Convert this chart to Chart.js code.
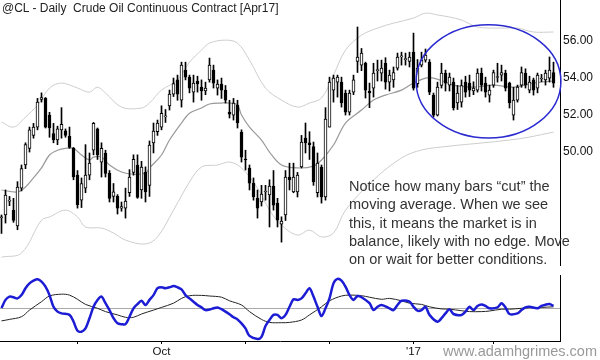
<!DOCTYPE html>
<html>
<head>
<meta charset="utf-8">
<script src="https://cdn.jsdelivr.net/npm/chart.js@4.4.1/dist/chart.umd.min.js"></script>
<style>
    body { margin: 0; background: #fff; }
    #wrap { position: relative; width: 600px; height: 360px; overflow: hidden; background: #fff; }
    #priceChart { position: absolute; left: 0; top: 0; }
    #oscChart { position: absolute; left: 0; top: 268px; }
    .title { position: absolute; left: 2px; top: 1px; font: 12px "Liberation Sans", Arial, sans-serif; color: #222; white-space: pre; }
    .note { position: absolute; left: 349px; top: 177px; font: 14.5px/18.3px "Liberation Sans", Arial, sans-serif; color: #333; }
    .site { position: absolute; right: 3px; top: 343px; font: 14.5px "Liberation Sans", Arial, sans-serif; color: #999; }
</style>
</head>
<body>
<div id="wrap">
    <canvas id="priceChart" width="600" height="266"></canvas>
    <canvas id="oscChart" width="600" height="92"></canvas>
    <div class="title">@CL - Daily  Crude Oil Continuous Contract [Apr17]</div>
    <div class="note">Notice how many bars “cut” the<br>moving average. When we see<br>this, it means the market is in<br>balance, likely with no edge. Move<br>on or wait for better conditions.</div>
    <div class="site">www.adamhgrimes.com</div>
</div>
<script>
/**=================
 * Data
 =================*/
const open = [46.45, 46.6, 47.35, 46.86, 46.0, 48.05, 49.3, 50.2, 50.9, 51.35,
    52.85, 52.9, 52.0, 51.0, 50.65, 51.2, 51.15, 50.85, 50.2, 48.75,
    47.4, 48.05, 48.75, 50.1, 51.25, 49.45, 49.95, 48.85, 47.6, 47.6,
    46.97, 46.97, 47.8, 48.9, 49.3, 47.95, 48.9, 48.2, 50.5, 51.1,
    51.35, 51.9, 52.5, 53.13, 53.9, 52.8, 54.43, 54.05, 53.24, 53.84,
    53.51, 53.3, 53.9, 54.43, 53.46, 53.68, 53.35, 52.16, 52.0, 52.54,
    51.08, 49.62, 49.14, 48.32, 47.5, 47.3, 47.84, 47.68, 48.16, 47.24,
    46.1, 46.6, 48.65, 47.84, 47.84, 49.19, 50.76, 50.5, 50.3, 47.8,
    49.19, 47.57, 51.35, 53.35, 53.78, 53.78, 53.19, 52.16, 53.24, 54.9,
    54.7, 54.8, 53.3, 53.46, 54.4, 54.27, 54.8, 53.78, 53.9, 54.54,
    55.14, 55.0, 54.9, 55.4, 53.7, 54.7, 54.97, 54.86, 53.08, 52.0,
    53.6, 54.27, 53.62, 53.78, 52.65, 52.7, 53.78, 53.73, 53.3, 53.35,
    54.27, 53.73, 53.08, 53.62, 54.03, 54.16, 54.27, 53.73, 52.0, 52.8,
    53.62, 54.27, 53.35, 53.9, 53.46, 53.95, 53.9, 54.0, 54.3];
const high = [46.6, 47.95, 47.6, 47.5, 48.4, 49.3, 50.5, 51.35, 51.55, 52.9,
    53.2, 52.95, 52.15, 51.55, 51.4, 52.4, 51.25, 51.35, 50.25, 49.0,
    48.6, 50.4, 49.95, 51.6, 51.3, 50.5, 50.1, 49.0, 48.3, 47.7,
    47.3, 48.05, 49.05, 49.85, 49.85, 49.5, 49.2, 50.6, 51.57, 51.73,
    52.5, 52.3, 53.35, 54.0, 54.16, 54.86, 54.86, 54.16, 54.16, 54.1,
    53.9, 53.78, 55.08, 54.7, 53.9, 54.0, 53.6, 52.8, 52.9, 52.8,
    51.2, 50.1, 49.3, 48.6, 47.95, 48.2, 48.2, 48.5, 49.0, 47.5,
    46.5, 49.0, 49.4, 49.4, 48.9, 50.9, 51.57, 51.1, 50.54, 49.95,
    49.3, 52.4, 54.05, 54.16, 54.16, 54.05, 53.35, 53.35, 54.16, 56.76,
    55.6, 54.86, 53.73, 54.8, 54.97, 54.97, 55.1, 54.43, 54.6, 55.35,
    55.4, 55.35, 55.4, 56.43, 55.0, 55.4, 55.57, 55.0, 53.19, 53.78,
    54.8, 54.43, 54.27, 54.0, 53.6, 53.9, 54.1, 54.16, 53.8, 54.5,
    54.54, 54.05, 53.62, 54.43, 54.8, 54.7, 54.43, 53.78, 53.5, 53.62,
    54.6, 54.5, 54.1, 54.0, 54.27, 54.2, 54.43, 55.14, 54.86];
const low = [45.6, 46.16, 47.1, 46.2, 45.8, 47.9, 49.1, 50.0, 50.75, 51.2,
    52.7, 51.3, 50.8, 50.5, 50.4, 50.75, 50.8, 50.2, 48.5, 46.97,
    47.0, 47.8, 48.5, 49.85, 49.6, 48.65, 48.65, 47.3, 47.3, 46.65,
    46.8, 46.43, 47.6, 48.75, 47.5, 47.5, 47.3, 47.6, 49.95, 50.9,
    51.2, 51.6, 52.27, 53.0, 52.8, 52.43, 53.9, 53.2, 52.7, 53.24,
    52.8, 53.1, 53.78, 53.46, 53.08, 52.9, 52.65, 51.84, 51.73, 51.3,
    49.46, 49.03, 47.95, 47.4, 46.43, 47.08, 47.4, 45.95, 46.86, 45.95,
    45.13, 46.3, 47.95, 47.8, 47.57, 49.14, 49.95, 49.6, 48.2, 47.57,
    47.24, 47.4, 51.35, 52.7, 52.97, 52.43, 52.0, 52.0, 53.1, 54.3,
    54.4, 52.92, 52.4, 52.97, 53.84, 53.84, 53.4, 53.3, 53.5, 54.43,
    54.7, 54.7, 54.6, 53.35, 53.5, 54.6, 54.86, 53.1, 51.89, 51.95,
    53.46, 53.3, 53.3, 52.27, 52.3, 52.43, 52.97, 53.0, 53.1, 53.24,
    53.3, 52.97, 52.7, 53.5, 53.78, 53.84, 53.3, 52.38, 51.73, 52.7,
    53.5, 53.46, 53.2, 53.08, 53.2, 53.8, 53.62, 53.78, 53.5];
const close = [46.5, 47.68, 47.4, 46.3, 48.1, 49.1, 50.4, 51.2, 51.35, 52.7,
    52.95, 51.35, 51.3, 50.65, 51.25, 51.5, 50.9, 50.25, 48.65, 47.15,
    48.3, 48.75, 49.4, 51.55, 49.85, 50.2, 48.85, 47.5, 47.85, 46.97,
    47.05, 47.35, 48.65, 49.6, 47.55, 49.19, 47.84, 50.38, 51.13, 51.57,
    52.1, 51.95, 53.13, 53.7, 53.13, 54.7, 54.05, 53.46, 53.73, 53.68,
    53.3, 53.46, 54.7, 53.73, 53.68, 53.35, 52.81, 52.05, 52.65, 51.57,
    49.73, 49.57, 48.32, 47.57, 46.97, 47.73, 47.88, 48.16, 47.13, 46.32,
    46.27, 48.65, 48.49, 48.65, 48.75, 50.54, 50.49, 50.4, 48.38, 49.4,
    47.57, 51.78, 53.78, 54.0, 54.05, 52.65, 52.16, 53.19, 53.9, 55.14,
    55.35, 53.35, 53.19, 54.27, 54.43, 54.54, 53.78, 54.16, 54.3, 55.14,
    55.2, 55.03, 55.14, 53.46, 54.54, 54.97, 55.24, 53.24, 52.0, 53.51,
    54.27, 53.73, 54.05, 52.38, 53.19, 53.6, 53.24, 53.35, 53.46, 54.27,
    53.62, 53.24, 53.35, 54.3, 54.08, 54.3, 53.46, 52.65, 52.81, 53.51,
    54.3, 53.62, 53.78, 53.35, 54.16, 54.0, 54.27, 54.43, 53.73];

// moving average and bands, read at selected bars
const maIdx = [0, 4, 6, 8, 10, 12, 14, 16, 18, 20, 22, 23, 25, 27, 30, 33, 36, 37, 40, 42,
    45, 47, 50, 52, 55, 57, 59, 60, 62, 65, 67, 70, 74, 78, 80, 83, 86, 90, 93, 96,
    100, 103, 106, 108, 111, 113, 118, 123, 128, 133, 138];
const maVal = [47.95, 47.84, 48.11, 48.6, 49.14, 49.84, 50.1, 50.2, 50.2, 49.84, 49.57, 49.73, 49.73, 49.3, 48.92, 48.8, 48.86, 49.14, 49.84, 50.65,
    51.57, 52.1, 52.38, 52.6, 52.65, 52.65, 52.54, 52.0, 51.35, 50.65, 50.0, 49.3, 49.14, 49.24, 49.57, 50.38, 51.57, 52.27, 52.81, 53.08,
    53.35, 53.73, 54.0, 54.0, 53.78, 53.62, 53.51, 53.62, 53.51, 53.73, 53.84];
const upperIdx = [0, 3, 6, 9, 12, 15, 19, 22, 24, 26, 30, 35, 37, 40, 44, 47, 50, 52, 56, 59,
    62, 66, 70, 74, 77, 80, 83, 86, 90, 94, 98, 103, 106, 109, 112, 115, 119, 125, 129, 133, 138];
const upperVal = [51.62, 51.35, 51.89, 52.54, 53.46, 53.73, 53.46, 53.24, 53.51, 53.19, 52.43, 52.38, 52.65, 53.35, 53.89, 54.86, 55.51, 55.89, 56.05, 55.89,
    54.97, 53.46, 52.81, 52.43, 52.65, 52.92, 54.16, 55.51, 56.32, 56.7, 56.97, 57.24, 57.51, 57.41, 57.3, 57.14, 56.76, 56.7, 56.7, 56.49, 56.49];
const lowerIdx = [0, 5, 10, 12, 16, 19, 21, 25, 28, 31, 36, 39, 43, 47, 50, 54, 57, 60, 64, 67,
    70, 74, 77, 80, 83, 86, 93, 100, 105, 112, 120, 127, 132, 138];
const lowerVal = [44.32, 44.54, 46.32, 46.49, 46.86, 46.49, 45.95, 45.89, 45.62, 45.24, 45.03, 45.41, 46.86, 48.38, 49.19, 49.3, 49.46, 49.14, 48.05, 46.86,
    46.05, 45.51, 45.78, 45.41, 45.62, 46.86, 48.49, 49.68, 50.11, 50.32, 50.49, 50.65, 50.81, 51.08];

// oscillator (blue) and its signal line (black)
const oscIdx = [0, 1, 2, 3, 4, 5, 6, 7, 8, 9, 10, 11, 12, 13, 14, 15, 17, 18, 19, 20,
    21, 22, 23, 24, 25, 26, 27, 28, 29, 30, 31, 32, 33, 34, 35, 36, 37, 38, 39, 40,
    41, 42, 43, 44, 45, 46, 47, 48, 49, 50, 51, 52, 53, 54, 55, 56, 57, 58, 59, 60,
    61, 62, 64, 65, 66, 67, 68, 69, 70, 71, 72, 73, 74, 75, 76, 77, 78, 79, 80, 81,
    82, 83, 84, 85, 86, 87, 88, 89, 90, 92, 93, 94, 95, 97, 98, 99, 100, 102, 103, 104,
    105, 106, 107, 109, 110, 111, 112, 113, 115, 116, 117, 118, 119, 120, 121, 122, 124, 125, 126, 127,
    129, 130, 131, 132, 134, 135, 136, 137, 138];
const oscVal = [0.0, 0.27, 0.38, 0.36, 0.32, 0.43, 0.66, 0.82, 0.91, 0.96, 0.88, 0.71, 0.43, 0.04, -0.12, -0.18, -0.23, -0.45, -0.76, -0.79,
    -0.68, -0.34, 0.04, 0.27, 0.38, 0.16, -0.07, -0.34, -0.51, -0.54, -0.54, -0.29, -0.01, 0.13, 0.24, 0.1, 0.27, 0.43, 0.66, 0.69,
    0.66, 0.69, 0.73, 0.69, 0.62, 0.43, 0.32, 0.21, 0.1, 0.02, -0.07, -0.05, -0.01, 0.02, -0.04, -0.12, -0.21, -0.31, -0.38, -0.51,
    -0.68, -0.93, -1.03, -0.96, -0.6, -0.4, -0.23, -0.23, -0.34, -0.23, 0.04, 0.29, 0.27, 0.32, 0.49, 0.66, 0.38, 0.04, -0.27, -0.01,
    0.32, 0.82, 0.97, 0.91, 0.71, 0.43, 0.27, 0.4, 0.36, 0.16, -0.07, 0.04, 0.1, -0.01, -0.07, 0.1, 0.24, 0.21, 0.04, -0.09,
    -0.07, 0.04, -0.23, -0.46, -0.34, -0.18, -0.04, -0.2, -0.23, -0.12, 0.04, -0.07, 0.07, 0.12, 0.07, -0.01, 0.02, 0.16, 0.02, -0.2,
    -0.18, -0.07, 0.02, 0.04, -0.01, 0.07, 0.11, 0.13, 0.07];
const sigIdx = [0, 2, 5, 7, 10, 12, 15, 17, 19, 21, 24, 26, 29, 31, 33, 35, 38, 40, 43, 45,
    47, 50, 52, 55, 57, 60, 62, 65, 67, 70, 72, 75, 77, 80, 82, 85, 87, 90, 92, 95,
    97, 100, 102, 105, 107, 110, 112, 115, 117, 120, 122, 125, 127, 130, 132, 135, 138];
const sigVal = [-0.43, -0.38, -0.29, -0.07, 0.21, 0.4, 0.46, 0.43, 0.29, 0.12, -0.01, -0.12, -0.23, -0.31, -0.31, -0.2, -0.07, 0.02, 0.16, 0.32,
    0.41, 0.42, 0.4, 0.36, 0.24, 0.1, -0.12, -0.38, -0.48, -0.49, -0.48, -0.4, -0.23, 0.04, 0.24, 0.4, 0.43, 0.41, 0.36, 0.29,
    0.32, 0.24, 0.16, 0.12, 0.04, -0.03, -0.04, -0.09, -0.12, -0.12, -0.1, -0.04, -0.04, -0.01, 0.01, 0.02, 0.04];

const priceTicks = [50, 52, 54, 56];
const monthTicks = [19, 40, 61, 82, 103, 123];
const monthLabels = ['', 'Oct', '', '', "'17", ''];

// the circled range: centre bar, centre price, half-width in bars, half-height in price
const circleBar = 121.75;
const circlePrice = 53.82;
const circleBars = 18.1;
const circleRange = 3.06;

/**=================
 * Helpers
 =================*/
const xMin = -0.375;
const xMax = 139.625;
const pts = (xs, ys) => xs.map((x, k) => ({ x: x, y: ys[k] }));
const tickFont = { family: '"Liberation Sans", Arial, sans-serif', size: 12 };

const wicks = low.map((l, i) => ({ x: i, y: [l, high[i]] }));
const bodies = open.map((o, i) => ({ x: i, y: [o, close[i]] }));
const bodyColors = open.map((o, i) => close[i] >= o ? '#fff' : '#000');

const ellipsePlugin = {
    id: 'ellipse',
    afterDraw(chart) {
        const { ctx, scales: { x, y } } = chart;
        const cx = x.getPixelForValue(circleBar);
        const cy = y.getPixelForValue(circlePrice);
        const rx = x.getPixelForValue(circleBar + circleBars) - cx;
        const ry = cy - y.getPixelForValue(circlePrice + circleRange);
        ctx.save();
        ctx.strokeStyle = '#2a2ad0';
        ctx.lineWidth = 1.5;
        ctx.beginPath();
        ctx.ellipse(cx, cy, rx, ry, 0, 0, Math.PI * 2);
        ctx.stroke();
        ctx.restore();
    }
};

const lineStyle = (color, width) => ({
    type: 'line', borderColor: color, borderWidth: width, pointRadius: 0,
    tension: 0.35, fill: false, order: 3
});

/**=================
 * Price Chart
 =================*/
new Chart(document.getElementById('priceChart'), {
    type: 'bar',
    data: {
        datasets: [
            { ...lineStyle('#cdcdcd', 1), data: pts(upperIdx, upperVal) },
            { ...lineStyle('#cdcdcd', 1), data: pts(lowerIdx, lowerVal) },
            { ...lineStyle('#999', 1.2), data: pts(maIdx, maVal) },
            { data: wicks, backgroundColor: '#000', barThickness: 1, grouped: false, order: 2 },
            {
                data: bodies, backgroundColor: bodyColors, borderColor: '#000', borderWidth: 1,
                borderSkipped: false, barThickness: 3, minBarLength: 1, grouped: false, order: 1
            }
        ]
    },
    options: {
        responsive: false,
        animation: false,
        events: [],
        layout: { padding: 0 },
        plugins: { legend: { display: false }, tooltip: { enabled: false } },
        scales: {
            x: { type: 'linear', min: xMin, max: xMax, offset: false, display: false },
            y: {
                position: 'right',
                min: 43.84,
                max: 58.22,
                grid: { display: false, drawTicks: false },
                border: { display: true, color: '#000', width: 1 },
                ticks: { padding: 3, color: '#111', font: tickFont, callback: v => v.toFixed(2) },
                afterBuildTicks: s => { s.ticks = priceTicks.map(v => ({ value: v })); },
                afterFit: s => { s.width = 40; s.paddingTop = 0; s.paddingBottom = 0; }
            }
        }
    },
    plugins: [ellipsePlugin]
});

/**=================
 * Oscillator
 =================*/
new Chart(document.getElementById('oscChart'), {
    type: 'line',
    data: {
        datasets: [
            { data: pts(oscIdx, oscVal), borderColor: '#1c1cd4', borderWidth: 2.5, pointRadius: 0, tension: 0.3 },
            { data: pts(sigIdx, sigVal), borderColor: '#222', borderWidth: 1, pointRadius: 0, tension: 0.35 }
        ]
    },
    options: {
        responsive: false,
        animation: false,
        events: [],
        layout: { padding: { top: 7 } },
        plugins: { legend: { display: false }, tooltip: { enabled: false } },
        scales: {
            x: {
                type: 'linear', min: xMin, max: xMax, offset: false,
                grid: { display: true, drawOnChartArea: false, drawTicks: true, tickLength: 3, color: '#000' },
                border: { display: true, color: '#000', width: 1 },
                ticks: {
                    autoSkip: false, maxRotation: 0, padding: 1, color: '#111',
                    font: { family: tickFont.family, size: 11.5 },
                    callback: v => { const k = monthTicks.indexOf(v); return k >= 0 ? monthLabels[k] : ''; }
                },
                afterBuildTicks: s => { s.ticks = monthTicks.map(v => ({ value: v })); },
                afterFit: s => { s.height = 19; s.paddingLeft = 0; s.paddingRight = 0; }
            },
            y: {
                position: 'right', min: -1.1, max: 1.1,
                grid: { color: '#aaa', drawTicks: false },
                border: { display: true, color: '#000', width: 1 },
                ticks: { display: false },
                afterBuildTicks: s => { s.ticks = [{ value: 0 }]; },
                afterFit: s => { s.width = 40; s.paddingTop = 0; s.paddingBottom = 0; }
            }
        }
    }
});
</script>
</body>
</html>
